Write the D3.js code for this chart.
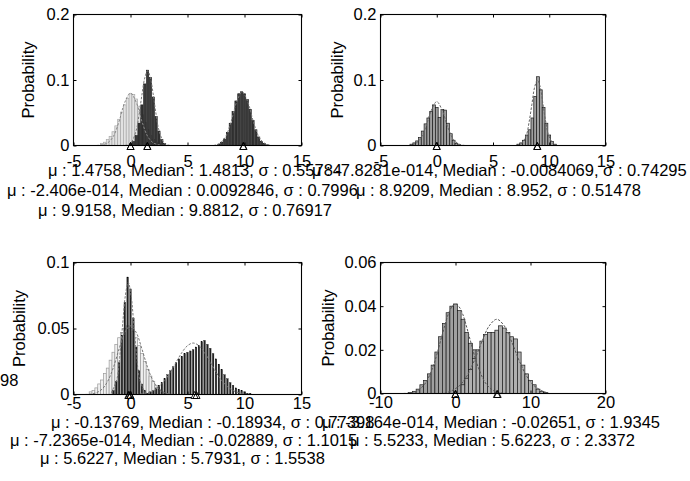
<!DOCTYPE html>
<html><head><meta charset="utf-8">
<script src="https://cdn.jsdelivr.net/npm/d3@7"></script>
<style>body{margin:0;background:#fff} svg{display:block}</style>
</head><body>
<svg id="c" width="690" height="481"></svg>
<script>
// ---------------- data ----------------
const yAxisTitle = "Probability";

// panel 1 (top-left)
const p1XTicks = [-5, 0, 5, 10, 15];
const p1YTicks = [0, 0.1, 0.2];
const p1YLabels = ["0", "0.1", "0.2"];
const p1BinStep = 0.25;
const p1LightStart = -2.5;
const p1LightValues = [0.003,0.005,0.009,0.014,0.021,0.030,0.040,0.051,0.062,0.072,0.079,0.078,0.071,0.060,0.047,0.035,0.024,0.015,0.009,0.005,0.003];
const p1DarkAStart = 0;
const p1DarkAValues = [0.002,0.006,0.015,0.034,0.062,0.094,0.115,0.104,0.074,0.044,0.022,0.009,0.003];
const p1DarkBStart = 7.75;
const p1DarkBValues = [0.002,0.005,0.010,0.020,0.034,0.052,0.068,0.079,0.082,0.079,0.070,0.055,0.038,0.024,0.013,0.006,0.003,0.001];
const p1CurveLight = [[-3,0],[-2.5,0.001],[-2,0.004],[-1.5,0.014],[-1,0.037],[-0.5,0.066],[0,0.080],[0.5,0.066],[1,0.037],[1.5,0.014],[2,0.004],[2.5,0.001],[3,0]];
const p1CurveA = [[-0.5,0],[0,0.003],[0.5,0.023],[0.75,0.047],[1,0.077],[1.25,0.103],[1.5,0.114],[1.75,0.103],[2,0.077],[2.25,0.047],[2.5,0.023],[3,0.003],[3.5,0]];
const p1CurveB = [[7.3,0],[7.8,0.003],[8.3,0.012],[8.8,0.035],[9.3,0.066],[9.8,0.082],[10.3,0.066],[10.8,0.035],[11.3,0.012],[11.8,0.003],[12.3,0]];
const p1Marks = [-2.406e-14, 0.0092846, 1.4758, 1.4813, 9.9158, 9.8812];
const p1Stats = [
  "\u03bc : 1.4758, Median : 1.4813, \u03c3 : 0.55784",
  "\u03bc : -2.406e-014, Median : 0.0092846, \u03c3 : 0.7996",
  "\u03bc : 9.9158, Median : 9.8812, \u03c3 : 0.76917"
];

// panel 2 (top-right)
const p2XTicks = [-5, 0, 5, 10, 15];
const p2YTicks = [0, 0.1, 0.2];
const p2YLabels = ["0", "0.1", "0.2"];
const p2BinStep = 0.25;
const p2LeftStart = -2.25;
const p2LeftValues = [0.002,0.004,0.007,0.012,0.022,0.033,0.042,0.052,0.062,0.058,0.043,0.055,0.054,0.034,0.018,0.008,0.003,0.001];
const p2RightStart = 7.25;
const p2RightValues = [0.002,0.004,0.008,0.016,0.024,0.042,0.075,0.105,0.085,0.058,0.034,0.016,0.006,0.002];
const p2CurveLeft = [[-2.5,0],[-2,0.002],[-1.5,0.009],[-1,0.027],[-0.5,0.053],[0,0.067],[0.5,0.053],[1,0.027],[1.5,0.009],[2,0.002],[2.5,0]];
const p2CurveRight = [[7.2,0],[7.45,0.001],[7.95,0.015],[8.2,0.035],[8.45,0.062],[8.7,0.089],[8.95,0.100],[9.2,0.089],[9.45,0.062],[9.7,0.035],[9.95,0.015],[10.45,0.001],[10.7,0]];
const p2Marks = [-7.8281e-14, -0.0084069, 8.9209, 8.952];
const p2Stats = [
  "\u03bc : -7.8281e-014, Median : -0.0084069, \u03c3 : 0.74295",
  "\u03bc : 8.9209, Median : 8.952, \u03c3 : 0.51478"
];

// panel 3 (bottom-left)
const p3XTicks = [-5, 0, 5, 10, 15];
const p3YTicks = [0, 0.05, 0.1];
const p3YLabels = ["0", "0.05", "0.1"];
const p3BinStep = 0.25;
const p3AStart = -3.5;
const p3AValues = [0.002,0.003,0.005,0.008,0.011,0.016,0.020,0.026,0.032,0.038,0.043,0.047,0.050,0.052,0.050,0.048,0.043,0.037,0.031,0.025,0.019,0.014,0.010,0.007,0.004,0.002,0.001];
const p3BStart = -1.5;
const p3BValues = [0.003,0.010,0.024,0.045,0.070,0.089,0.080,0.058,0.036,0.018,0.008,0.003];
const p3CStart = 1.5;
const p3CValues = [0.001,0.002,0.003,0.005,0.007,0.009,0.012,0.015,0.018,0.021,0.024,0.027,0.029,0.031,0.032,0.033,0.034,0.036,0.037,0.040,0.041,0.038,0.035,0.031,0.027,0.023,0.019,0.015,0.012,0.009,0.007,0.005,0.004,0.003,0.002,0.001,0.001];
const p3CurveNarrow = [[-1.7,0.001],[-1.2,0.0115],[-0.95,0.028],[-0.7,0.052],[-0.45,0.075],[-0.2,0.085],[0.05,0.075],[0.3,0.052],[0.55,0.028],[0.8,0.0115],[1.3,0.001]];
const p3CurveBroadL = [[-4,0],[-3.5,0.0003],[-3,0.0013],[-2.5,0.004],[-2,0.010],[-1.5,0.0205],[-1,0.0345],[-0.5,0.047],[0,0.052],[0.5,0.047],[1,0.0345],[1.5,0.0205],[2,0.010],[2.5,0.004],[3,0.0013],[3.5,0.0003],[4,0]];
const p3CurveBroadR = [[0.5,0],[1,0.0006],[1.5,0.0014],[2,0.003],[2.5,0.006],[3,0.0106],[3.5,0.017],[4,0.0244],[4.5,0.0317],[5,0.037],[5.5,0.039],[6,0.037],[6.5,0.0317],[7,0.0244],[7.5,0.017],[8,0.0106],[8.5,0.006],[9,0.003],[9.5,0.0014],[10,0.0006],[10.5,0]];
const p3Marks = [-0.13769, -0.18934, -7.2365e-14, -0.02889, 5.6227, 5.7931];
const p3Stats = [
  "\u03bc : -0.13769, Median : -0.18934, \u03c3 : 0.77398",
  "\u03bc : -7.2365e-014, Median : -0.02889, \u03c3 : 1.1015",
  "\u03bc : 5.6227, Median : 5.7931, \u03c3 : 1.5538"
];

// panel 4 (bottom-right)
const p4XTicks = [-10, 0, 10, 20];
const p4YTicks = [0, 0.02, 0.04, 0.06];
const p4YLabels = ["0", "0.02", "0.04", "0.06"];
const p4BinStep = 0.5;
const p4LeftStart = -6;
const p4LeftValues = [0.0005,0.001,0.002,0.004,0.006,0.009,0.013,0.019,0.026,0.032,0.037,0.040,0.041,0.038,0.034,0.028,0.023,0.020,0.016,0.011,0.007,0.004,0.002];
const p4RightStart = 1;
const p4RightValues = [0.004,0.007,0.011,0.016,0.020,0.024,0.027,0.028,0.028,0.029,0.031,0.030,0.028,0.026,0.025,0.019,0.013,0.009,0.006,0.004,0.002,0.001,0.0005];
const p4CurveLeft = [[-7,0],[-6,0.0003],[-5,0.0014],[-4,0.0048],[-3,0.0123],[-2.5,0.0177],[-2,0.024],[-1.5,0.0303],[-1,0.036],[-0.5,0.0396],[0,0.041],[0.5,0.0396],[1,0.036],[1.5,0.0303],[2,0.024],[2.5,0.0177],[3,0.0123],[4,0.0048],[5,0.0014],[6,0.0003],[7,0]];
const p4CurveRight = [[-1.5,0],[-0.5,0.0013],[0.5,0.0035],[1.5,0.0079],[2.5,0.015],[3.5,0.0236],[4.5,0.031],[5.5,0.034],[6.5,0.031],[7.5,0.0236],[8.5,0.015],[9.5,0.0079],[10.5,0.0035],[11.5,0.0013],[12.5,0]];
const p4Marks = [-3.164e-14, -0.02651, 5.5233, 5.6223];
const p4Stats = [
  "\u03bc : -3.164e-014, Median : -0.02651, \u03c3 : 1.9345",
  "\u03bc : 5.5233, Median : 5.6223, \u03c3 : 2.3372"
];
const strayText = "98";

// ---------------- drawing ----------------
const svg = d3.select("#c");
const FONT = "'Liberation Sans', Arial, sans-serif";
const FS = 16.5;

function drawPanel(cfg) {
  const x = d3.scaleLinear().domain([cfg.xTicks[0], cfg.xTicks[cfg.xTicks.length - 1]]).range([cfg.left, cfg.right]);
  const y = d3.scaleLinear().domain([cfg.yTicks[0], cfg.yTicks[cfg.yTicks.length - 1]]).range([cfg.bottom, cfg.top]);
  const g = svg.append("g");

  // bars
  cfg.series.forEach(s => {
    const bw = x(s.step) - x(0);
    g.append("g").selectAll("rect").data(s.values).join("rect")
      .attr("x", (d, i) => x(s.start + i * s.step) - bw * s.frac / 2)
      .attr("width", bw * s.frac)
      .attr("y", d => y(d))
      .attr("height", d => y(0) - y(d))
      .attr("fill", s.fill)
      .attr("stroke", s.stroke)
      .attr("stroke-width", s.sw);
  });

  // fitted curves
  const line = d3.line().x(d => x(d[0])).y(d => y(d[1])).curve(d3.curveCatmullRom);
  cfg.curves.forEach(c => {
    g.append("path").attr("d", line(c.pts)).attr("fill", "none")
      .attr("stroke", c.color).attr("stroke-width", 1).attr("stroke-dasharray", "2.5,1.5");
  });

  // box
  g.append("rect").attr("x", cfg.left).attr("y", cfg.top)
    .attr("width", cfg.right - cfg.left).attr("height", cfg.bottom - cfg.top)
    .attr("fill", "none").attr("stroke", "#000").attr("stroke-width", 1.1);

  // axes (ticks pointing inward)
  const fmtX = d => String(d);
  const fmtY = (d, i) => cfg.yLabels[i];
  const ax = g.append("g").attr("transform", `translate(0,${cfg.bottom})`)
    .call(d3.axisBottom(x).tickValues(cfg.xTicks).tickSize(-3).tickPadding(cfg.xPad).tickFormat(fmtX));
  const axT = g.append("g").attr("transform", `translate(0,${cfg.top})`)
    .call(d3.axisTop(x).tickValues(cfg.xTicks).tickSize(-3).tickFormat(""));
  const ay = g.append("g").attr("transform", `translate(${cfg.left},0)`)
    .call(d3.axisLeft(y).tickValues(cfg.yTicks).tickSize(-3).tickPadding(4).tickFormat(fmtY));
  const ayR = g.append("g").attr("transform", `translate(${cfg.right},0)`)
    .call(d3.axisRight(y).tickValues(cfg.yTicks).tickSize(-3).tickFormat(""));
  [ax, axT, ay, ayR].forEach(a => {
    a.select(".domain").remove();
    a.selectAll("line").attr("stroke", "#000");
    a.selectAll("text").attr("font-family", FONT).attr("font-size", FS).attr("fill", "#000");
  });

  // mean / median markers
  const y0 = y(0);
  g.append("g").selectAll("path").data(cfg.marks).join("path")
    .attr("d", d => `M${x(d) - 3.5},${y0 + 4} L${x(d)},${y0 - 3} L${x(d) + 3.5},${y0 + 4} Z`)
    .attr("fill", "none").attr("stroke", "#000").attr("stroke-width", 0.9);

  // y title
  g.append("text").attr("transform", `translate(${cfg.ylabX},${(cfg.top + cfg.bottom) / 2}) rotate(-90)`)
    .attr("text-anchor", "middle").attr("font-family", FONT).attr("font-size", FS)
    .attr("dy", "0.35em").text(yAxisTitle);

  // statistics text (one line per fitted component)
  g.append("g").selectAll("text").data(cfg.stats).join("text")
    .attr("x", (d, i) => cfg.statsX[i]).attr("y", (d, i) => cfg.statsY[i])
    .attr("text-anchor", "start").attr("font-family", FONT).attr("font-size", FS)
    .text(d => d);
}

const LIGHT = { fill: "#e2e2e2", stroke: "#a8a8a8", sw: 0.7, frac: 1 };
const DARK = { fill: "#3a3a3a", stroke: "#111", sw: 0.6, frac: 0.75 };
const MID = { fill: "#a0a0a0", stroke: "#1a1a1a", sw: 0.7, frac: 1 };
const STRIPE = { fill: "#222", stroke: "#000", sw: 0.3, frac: 0.55 };

drawPanel({
  left: 73.5, right: 301.5, top: 14.5, bottom: 145.5, xPad: 9.5,
  xTicks: p1XTicks, yTicks: p1YTicks, yLabels: p1YLabels,
  series: [
    Object.assign({ start: p1LightStart, step: p1BinStep, values: p1LightValues }, LIGHT),
    Object.assign({ start: p1DarkAStart, step: p1BinStep, values: p1DarkAValues }, DARK),
    Object.assign({ start: p1DarkBStart, step: p1BinStep, values: p1DarkBValues }, DARK)
  ],
  curves: [{ pts: p1CurveLight, color: "#888" }, { pts: p1CurveA, color: "#777" }, { pts: p1CurveB, color: "#777" }],
  marks: p1Marks, stats: p1Stats, statsX: [48, 7, 38], statsY: [176, 196, 216], ylabX: 28
});

drawPanel({
  left: 380.5, right: 605.5, top: 14.5, bottom: 145.5, xPad: 9.5,
  xTicks: p2XTicks, yTicks: p2YTicks, yLabels: p2YLabels,
  series: [
    Object.assign({ start: p2LeftStart, step: p2BinStep, values: p2LeftValues }, MID),
    Object.assign({ start: p2RightStart, step: p2BinStep, values: p2RightValues }, MID)
  ],
  curves: [{ pts: p2CurveLeft, color: "#666" }, { pts: p2CurveRight, color: "#666" }],
  marks: p2Marks, stats: p2Stats, statsX: [312, 356], statsY: [176, 196], ylabX: 337
});

drawPanel({
  left: 73.5, right: 301.5, top: 262.5, bottom: 394.5, xPad: 3,
  xTicks: p3XTicks, yTicks: p3YTicks, yLabels: p3YLabels,
  series: [
    Object.assign({ start: p3AStart, step: p3BinStep, values: p3AValues }, LIGHT, { fill: "#f0f0f0", stroke: "#999" }),
    Object.assign({ start: p3BStart, step: p3BinStep, values: p3BValues }, STRIPE),
    Object.assign({ start: p3CStart, step: p3BinStep, values: p3CValues }, STRIPE)
  ],
  curves: [{ pts: p3CurveBroadL, color: "#777" }, { pts: p3CurveNarrow, color: "#777" }, { pts: p3CurveBroadR, color: "#777" }],
  marks: p3Marks, stats: p3Stats, statsX: [51, 10, 40], statsY: [428, 446, 464], ylabX: 19
});

drawPanel({
  left: 380.5, right: 605.5, top: 262.5, bottom: 393.5, xPad: 3,
  xTicks: p4XTicks, yTicks: p4YTicks, yLabels: p4YLabels,
  series: [
    Object.assign({ start: p4LeftStart, step: p4BinStep, values: p4LeftValues }, MID),
    Object.assign({ start: p4RightStart, step: p4BinStep, values: p4RightValues }, MID, { fill: "#b0b0b0" })
  ],
  curves: [{ pts: p4CurveLeft, color: "#555" }, { pts: p4CurveRight, color: "#555" }],
  marks: p4Marks, stats: p4Stats, statsX: [322, 350], statsY: [428, 446], ylabX: 328
});

svg.append("text").attr("x", 0).attr("y", 386).attr("font-family", FONT).attr("font-size", FS).text(strayText);
</script>
</body></html>
